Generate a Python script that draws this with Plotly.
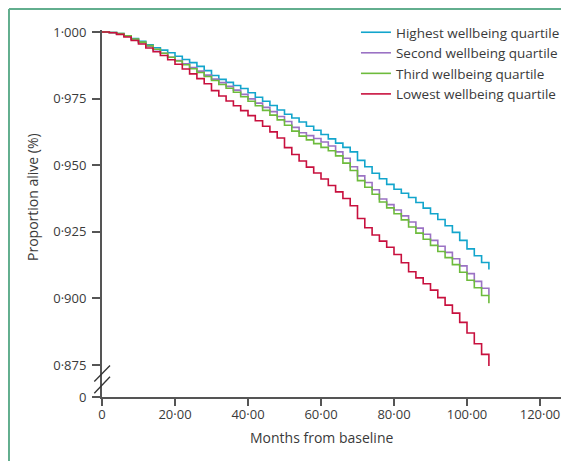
import plotly.graph_objects as go

# ---- data ----
months = list(range(0, 108, 2))

highest = [1.0000, 0.9998, 0.9994, 0.9985, 0.9975, 0.9965, 0.9952, 0.9941, 0.9932, 0.9922,
           0.9909, 0.9897, 0.9885, 0.9871, 0.9855, 0.9837, 0.9822, 0.9811, 0.9799, 0.9788,
           0.9772, 0.9755, 0.9740, 0.9724, 0.9707, 0.9691, 0.9677, 0.9662, 0.9646, 0.9631,
           0.9615, 0.9599, 0.9583, 0.9567, 0.9550, 0.9518, 0.9494, 0.9470, 0.9449, 0.9428,
           0.9410, 0.9395, 0.9379, 0.9360, 0.9339, 0.9318, 0.9296, 0.9273, 0.9248, 0.9218,
           0.9186, 0.9160, 0.9135, 0.9109]
second = [1.0000, 0.9998, 0.9993, 0.9984, 0.9972, 0.9960, 0.9947, 0.9934, 0.9920, 0.9905,
          0.9893, 0.9881, 0.9867, 0.9853, 0.9838, 0.9823, 0.9810, 0.9796, 0.9782, 0.9766,
          0.9749, 0.9733, 0.9717, 0.9701, 0.9683, 0.9664, 0.9642, 0.9622, 0.9611, 0.9600,
          0.9587, 0.9572, 0.9550, 0.9526, 0.9494, 0.9460, 0.9435, 0.9408, 0.9373, 0.9352,
          0.9332, 0.9310, 0.9287, 0.9264, 0.9241, 0.9218, 0.9196, 0.9173, 0.9149, 0.9122,
          0.9093, 0.9064, 0.9038, 0.9013]
third = [1.0000, 0.9998, 0.9994, 0.9986, 0.9974, 0.9962, 0.9949, 0.9935, 0.9920, 0.9905,
         0.9891, 0.9877, 0.9862, 0.9848, 0.9833, 0.9818, 0.9803, 0.9789, 0.9774, 0.9757,
         0.9740, 0.9723, 0.9706, 0.9688, 0.9670, 0.9650, 0.9628, 0.9609, 0.9595, 0.9581,
         0.9567, 0.9554, 0.9535, 0.9508, 0.9480, 0.9442, 0.9417, 0.9391, 0.9362, 0.9340,
         0.9318, 0.9295, 0.9268, 0.9245, 0.9222, 0.9199, 0.9176, 0.9153, 0.9127, 0.9098,
         0.9068, 0.9040, 0.9011, 0.8982]
lowest = [1.0000, 0.9997, 0.9991, 0.9981, 0.9968, 0.9955, 0.9940, 0.9926, 0.9912, 0.9896,
          0.9879, 0.9861, 0.9843, 0.9825, 0.9806, 0.9780, 0.9760, 0.9741, 0.9723, 0.9705,
          0.9686, 0.9667, 0.9646, 0.9625, 0.9602, 0.9566, 0.9540, 0.9516, 0.9493, 0.9471,
          0.9448, 0.9424, 0.9400, 0.9375, 0.9348, 0.9300, 0.9265, 0.9238, 0.9215, 0.9192,
          0.9165, 0.9134, 0.9100, 0.9077, 0.9055, 0.9031, 0.9003, 0.8975, 0.8945, 0.8910,
          0.8870, 0.8830, 0.8790, 0.8746]

series_names = ["Highest wellbeing quartile", "Second wellbeing quartile",
                "Third wellbeing quartile", "Lowest wellbeing quartile"]
series_values = [highest, second, third, lowest]
series_colors = ["#12a5cc", "#9b72c4", "#6dbb3c", "#c8103e"]

y_break = 0.863  # axis bottom, labelled "0"
y_tickvals = [y_break, 0.875, 0.900, 0.925, 0.950, 0.975, 1.000]
y_ticktext = ["0", "0·875", "0·900", "0·925", "0·950", "0·975", "1·000"]
x_tickvals = [0, 20, 40, 60, 80, 100, 120]
x_ticktext = ["0", "20·00", "40·00", "60·00", "80·00", "100·00", "120·00"]

FONT = "Open Sans"
TXT = "#3a3a3a"
AX = "#555555"
FRAME = "#62ae8e"

fig = go.Figure()
for name, vals, col in zip(series_names, series_values, series_colors):
    fig.add_trace(go.Scatter(x=months, y=vals, mode="lines", name=name,
                             line=dict(color=col, width=1.6, shape="hv")))

fig.update_layout(
    width=561, height=453,
    margin=dict(l=94, r=4, t=22, b=64),
    paper_bgcolor="white", plot_bgcolor="white",
    font=dict(family=FONT, size=13, color=TXT),
    showlegend=True,
    legend=dict(x=0.5485, y=1.0355, xanchor="left", yanchor="top",
                bgcolor="rgba(0,0,0,0)", font=dict(size=13.5, color=TXT),
                itemwidth=30, tracegroupgap=0),
    xaxis=dict(range=[0, 126.85], tickvals=x_tickvals, ticktext=x_ticktext,
               ticks="outside", ticklen=7, tickcolor=AX, tickwidth=1.5,
               ticklabelstandoff=-3,
               showline=True, linecolor=AX, linewidth=2, showgrid=False, zeroline=False,
               tickfont=dict(size=13, color=TXT)),
    yaxis=dict(range=[y_break, 1.00075], tickvals=y_tickvals, ticktext=y_ticktext,
               ticks="outside", ticklen=8, tickcolor=AX, tickwidth=1.5,
               ticklabelstandoff=3,
               showline=True, linecolor=AX, linewidth=2, showgrid=False, zeroline=False,
               tickfont=dict(size=13, color=TXT)),
    annotations=[
        dict(text="Proportion alive (%)", xref="paper", yref="paper", x=-0.149, y=0.545,
             xanchor="center", yanchor="middle",
             textangle=-90, showarrow=False, font=dict(size=14, color=TXT)),
        dict(text="Months from baseline", xref="paper", yref="paper", x=0.475, y=-0.109,
             xanchor="center", yanchor="middle",
             showarrow=False, font=dict(size=14, color=TXT)),
    ],
    shapes=[
        # axis break marks
        dict(type="line", xref="paper", yref="y", x0=-0.0166, x1=0.0173,
             y0=y_break + 0.0058, y1=y_break + 0.0118, line=dict(color="#333333", width=1.3)),
        dict(type="line", xref="paper", yref="y", x0=-0.0166, x1=0.0173,
             y0=y_break + 0.0014, y1=y_break + 0.0076, line=dict(color="#333333", width=1.3)),
        # outer frame
        dict(type="line", xref="paper", yref="paper", x0=-0.2009, x1=-0.2009, y0=1.0572, y1=-0.2,
             line=dict(color=FRAME, width=2)),
        dict(type="line", xref="paper", yref="paper", x0=-0.2009, x1=1.02, y0=1.0572, y1=1.0572,
             line=dict(color=FRAME, width=2)),
    ],
)

fig.write_html("out.html")
